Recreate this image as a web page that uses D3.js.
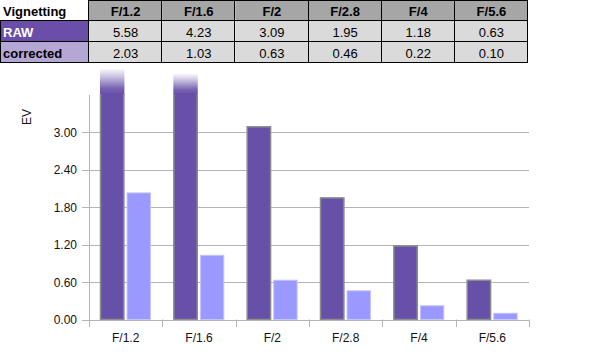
<!DOCTYPE html>
<html><head><meta charset="utf-8">
<script src="https://cdn.jsdelivr.net/npm/d3@7"></script>
<style>
html,body{margin:0;padding:0;background:#fff;}
svg{display:block;font-family:"Liberation Sans",Arial,sans-serif;}
</style></head>
<body><svg id="c" width="600" height="361"></svg>
<script>
const categories = ["F/1.2","F/1.6","F/2","F/2.8","F/4","F/5.6"];
const seriesNames = ["RAW","corrected"];
const rawValues = [5.58,4.23,3.09,1.95,1.18,0.63];
const correctedValues = [2.03,1.03,0.63,0.46,0.22,0.10];
const yTicks = [0,0.6,1.2,1.8,2.4,3.0];
const tableTitle = "Vignetting";
const axisTitle = "EV";

const svg = d3.select("#c");
const colors = {RAW:"#6750a8", corrected:"#9999ff"};

// ---------- table ----------
const tX = d3.scaleBand().domain(categories).range([89,528]);
const rowY = d3.scaleBand().domain(["head","RAW","corrected"]).range([0,63]);
const tbl = svg.append("g");
// header cells
tbl.selectAll("rect.h").data(categories).join("rect")
  .attr("x",d=>tX(d)).attr("y",rowY("head")).attr("width",tX.bandwidth()).attr("height",rowY.bandwidth())
  .attr("fill","#a6a6a6");
tbl.selectAll("text.h").data(categories).join("text")
  .attr("x",d=>tX(d)+tX.bandwidth()/2).attr("y",rowY("head")+15.5)
  .attr("text-anchor","middle").attr("font-size",13).attr("font-weight","bold").attr("fill","#000").text(d=>d);
tbl.append("text").attr("x",3).attr("y",rowY("head")+15.5).attr("font-size",13).attr("font-weight","bold").text(tableTitle);
const rows = [{name:"RAW",vals:rawValues,bg:"#6a4ea8",fg:"#fff"},{name:"corrected",vals:correctedValues,bg:"#b4a7d6",fg:"#000"}];
rows.forEach(r=>{
  const y0 = rowY(r.name);
  tbl.append("rect").attr("x",0).attr("y",y0).attr("width",89).attr("height",rowY.bandwidth()).attr("fill",r.bg);
  tbl.append("text").attr("x",3).attr("y",y0+16).attr("font-size",13).attr("font-weight","bold").attr("fill",r.fg).text(r.name);
  tbl.selectAll(null).data(r.vals).join("rect")
    .attr("x",(d,i)=>tX(categories[i])).attr("y",y0).attr("width",tX.bandwidth()).attr("height",rowY.bandwidth())
    .attr("fill","#dadada");
  tbl.selectAll(null).data(r.vals).join("text")
    .attr("x",(d,i)=>tX(categories[i])+tX.bandwidth()/2).attr("y",y0+16)
    .attr("text-anchor","middle").attr("font-size",13).attr("fill","#000").text(d=>d.toFixed(2));
});
// borders
const hl = [rowY("RAW"),rowY("corrected"),63];
tbl.selectAll("line.hb").data(hl).join("line")
  .attr("x1",0).attr("x2",528).attr("y1",d=>Math.round(d)-0.5).attr("y2",d=>Math.round(d)-0.5)
  .attr("stroke","#000").attr("stroke-width",1);
tbl.append("line").attr("x1",89).attr("x2",528).attr("y1",0.5).attr("y2",0.5).attr("stroke","#000");
const vl = categories.map(c=>tX(c)).concat([528]);
tbl.selectAll("line.vb").data(vl).join("line")
  .attr("x1",d=>Math.round(d)-0.5).attr("x2",d=>Math.round(d)-0.5).attr("y1",0).attr("y2",63)
  .attr("stroke","#000");
tbl.append("line").attr("x1",0.5).attr("x2",0.5).attr("y1",rowY("RAW")).attr("y2",63).attr("stroke","#000");

// ---------- chart ----------
const x = d3.scaleBand().domain(categories).range([89,529]);
const xs = d3.scaleBand().domain(seriesNames).range([x.bandwidth()*0.15,x.bandwidth()*0.845]).paddingInner(0.08);
const y = d3.scaleLinear().domain([0,3.6]).range([319.5,95]);
const yMax = y.domain()[1];
const over = d3.scaleLinear().domain([4.23,5.58]).range([21,26]).clamp(true);

const defs = svg.append("defs");
const grad = defs.append("linearGradient").attr("id","fade").attr("x1",0).attr("x2",0).attr("y1",0).attr("y2",1);
grad.append("stop").attr("offset","0%").attr("stop-color",colors.RAW).attr("stop-opacity",0.05);
grad.append("stop").attr("offset","25%").attr("stop-color",colors.RAW).attr("stop-opacity",0.3);
grad.append("stop").attr("offset","75%").attr("stop-color",colors.RAW).attr("stop-opacity",0.9);
grad.append("stop").attr("offset","100%").attr("stop-color",colors.RAW).attr("stop-opacity",1);

// gridlines
svg.append("g").selectAll("line").data(yTicks.filter(t=>t>0)).join("line")
  .attr("x1",89).attr("x2",529).attr("y1",d=>Math.round(y(d))+0.5).attr("y2",d=>Math.round(y(d))+0.5)
  .attr("stroke","#b4b4b4");

const data = categories.map((c,i)=>({cat:c, RAW:rawValues[i], corrected:correctedValues[i]}));
const g = svg.append("g");
data.forEach(d=>{
  // RAW bar
  const v = d.RAW;
  const top = y(Math.min(v,yMax));
  const bx = x(d.cat)+xs("RAW");
  if (v > yMax){
    const o = over(v);
    g.append("rect").attr("x",bx).attr("y",top-o).attr("width",xs.bandwidth()).attr("height",o)
      .attr("fill","url(#fade)");
    g.append("rect").attr("x",bx+0.5).attr("y",top).attr("width",xs.bandwidth()-1).attr("height",y(0)-top)
      .attr("fill",colors.RAW).attr("stroke","#8c8c8c").attr("stroke-width",1.5);
    g.append("rect").attr("x",bx+1.5).attr("y",top-2).attr("width",xs.bandwidth()-3).attr("height",4).attr("fill",colors.RAW);
  } else {
    g.append("rect").attr("x",bx+0.5).attr("y",top).attr("width",xs.bandwidth()-1).attr("height",y(0)-top)
      .attr("fill",colors.RAW).attr("stroke","#8c8c8c").attr("stroke-width",1.5);
  }
  const c = d.corrected;
  g.append("rect").attr("x",x(d.cat)+xs("corrected")+0.5).attr("y",y(c)).attr("width",xs.bandwidth()-1).attr("height",y(0)-y(c))
    .attr("fill",colors.corrected).attr("stroke","#c4c4ff").attr("stroke-width",1);
});

// y axis
const ax = svg.append("g");
ax.append("line").attr("x1",89.5).attr("x2",89.5).attr("y1",95).attr("y2",327).attr("stroke","#b4b4b4");
ax.selectAll("line.t").data(yTicks).join("line")
  .attr("x1",82).attr("x2",89).attr("y1",d=>Math.round(y(d))+0.5).attr("y2",d=>Math.round(y(d))+0.5).attr("stroke","#b4b4b4");
ax.selectAll("text").data(yTicks).join("text")
  .attr("x",77).attr("y",d=>y(d)+4.5).attr("text-anchor","end").attr("font-size",12).attr("fill","#111")
  .text(d3.format(".2f"));
svg.append("text").attr("transform","translate(31,117) rotate(-90)").attr("text-anchor","middle")
  .attr("font-size",12).attr("fill","#111").text(axisTitle);

// x axis
const xa = svg.append("g");
xa.append("line").attr("x1",89).attr("x2",529).attr("y1",Math.round(y(0))+0.5).attr("y2",Math.round(y(0))+0.5).attr("stroke","#b4b4b4");
const bounds = categories.map(c=>x(c)).concat([x.range()[1]]);
xa.selectAll("line.t").data(bounds).join("line")
  .attr("x1",d=>Math.round(d)+0.5).attr("x2",d=>Math.round(d)+0.5).attr("y1",y(0)).attr("y2",327).attr("stroke","#b4b4b4");
xa.selectAll("text").data(categories).join("text")
  .attr("x",d=>x(d)+x.bandwidth()/2).attr("y",342).attr("text-anchor","middle").attr("font-size",12).attr("fill","#111")
  .text(d=>d);
</script></body></html>
